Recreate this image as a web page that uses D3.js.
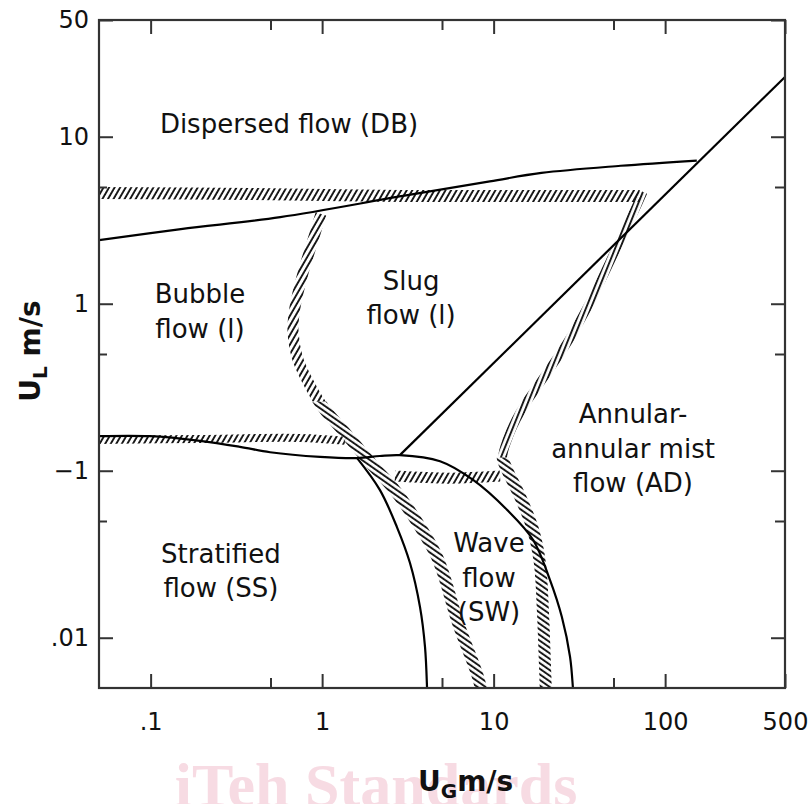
<!DOCTYPE html>
<meta charset="utf-8">
<style>
body { margin: 0; background: #fff; }
svg { font-family: "DejaVu Sans", Verdana, sans-serif; }
.axis path { display: none; }
.axis line { stroke: #333; stroke-width: 2; }
.axis text { font-size: 24px; fill: #111; font-family: "DejaVu Sans", sans-serif; }
.frame { fill: none; stroke: #333; stroke-width: 2.2; }
.curve { fill: none; stroke: #000; stroke-width: 2.2; }
.band { fill: none; }
.region text { font-size: 26px; fill: #111; text-anchor: middle; }
.title { font-weight: bold; font-size: 28px; fill: #111; }
.watermark { font-family: "Liberation Serif", serif; font-weight: bold; font-size: 62px; fill: #f7dbe3; text-anchor: middle; }
</style>
<body>
<svg id="chart" width="810" height="804"></svg>
<script src="https://d3js.org/d3.v7.min.js"></script>
<script>

// axis ticks
var xTicks = [0.1, 1, 10, 100, 500];
var xTickLabels = [".1", "1", "10", "100", "500"];
var xMinor = [0.5, 5, 50];
var yTicks = [50, 10, 1, 0.1, 0.01];
var yTickLabels = ["50", "10", "1", "\u22121", ".01"];
var yMinor = [5, 0.5, 0.05];

// solid boundaries (UG m/s, UL m/s)
var dbX = [0.05, 0.15, 0.57, 2.96, 9.5, 19, 55, 153];
var dbY = [2.4, 2.8, 3.3, 4.42, 5.4, 6.07, 6.7, 7.2];
var diagX = [2.84, 500];
var diagY = [0.124, 22.8];
var stratX = [0.05, 0.099, 0.194, 0.332, 0.497, 0.973, 1.6, 2.17, 2.84, 4.87, 7.59, 12.0, 17.0, 21.3, 25.0, 27.9, 29.0, 29.2];
var stratY = [0.161, 0.161, 0.151, 0.139, 0.129, 0.121, 0.119, 0.1225, 0.124, 0.114, 0.0881, 0.0582, 0.0385, 0.0222, 0.0133, 0.00768, 0.005, 0.0045];
var waveX = [1.6, 2.17, 2.73, 3.25, 3.72, 3.98, 4.09, 4.1];
var waveY = [0.119, 0.0768, 0.046, 0.0281, 0.0153, 0.00881, 0.005, 0.0045];

// hatched transition bands (centre lines)
var bandAX = [0.05, 0.38, 2.84, 21.3, 71];
var bandAY = [4.6, 4.54, 4.42, 4.42, 4.42];
var bandRX = [74.3, 68.6, 52.4, 37.9, 26.8, 18.6, 14.3, 12.0, 11.3, 12.0, 14.3, 17.0, 18.6, 19.4, 19.9, 20.2];
var bandRY = [4.67, 3.9, 2.19, 1.1, 0.582, 0.335, 0.225, 0.153, 0.12, 0.101, 0.0697, 0.0442, 0.0281, 0.0141, 0.00706, 0.0045];
var bandCX = [2.66, 5.57, 10.9];
var bandCY = [0.0929, 0.0903, 0.0929];
var bandEX = [0.984, 0.885, 0.774, 0.695, 0.676, 0.715, 0.817, 1.01, 1.32, 1.66, 2.03, 2.56, 3.13, 4.68, 6.2, 8.11, 8.6];
var bandEY = [3.45, 2.41, 1.53, 0.955, 0.697, 0.48, 0.349, 0.241, 0.175, 0.133, 0.104, 0.08, 0.0607, 0.0304, 0.01225, 0.00582, 0.0045];
var bandFX = [0.05, 0.194, 0.743, 1.36];
var bandFY = [0.153, 0.155, 0.157, 0.151];

// region labels
var regionText = [
  ["Dispersed flow (DB)"],
  ["Bubble", "flow (l)"],
  ["Slug", "flow (l)"],
  ["Annular-", "annular mist", "flow (AD)"],
  ["Stratified", "flow (SS)"],
  ["Wave", "flow", "(SW)"]
];
var regionX = [0.641, 0.194, 3.3, 65.0, 0.257, 9.4];
var regionY = [10.5, 1.01, 1.21, 0.193, 0.0281, 0.0326];

var svg = d3.select("#chart");
var pLeft = 99, pRight = 785, pTop = 20, pBottom = 688;

var x = d3.scaleLog().domain([0.05, 500]).range([pLeft, pRight]);
var y = d3.scaleLog().domain([0.005, 50]).range([pBottom, pTop]);

function zip(xs, ys) { return xs.map(function(v, i) { return [v, ys[i]]; }); }

// watermark behind everything
svg.append("text").attr("class", "watermark")
    .attr("x", 376).attr("y", 806)
    .text("iTeh Standards");

var defs = svg.append("defs");
function clip(id, y0, y1) {
  defs.append("clipPath").attr("id", id)
    .append("rect").attr("x", pLeft).attr("y", y0)
      .attr("width", pRight - pLeft).attr("height", y1 - y0);
}
clip("plot", pTop, pBottom);
// hatch direction changes part way down the left and right bands
clip("upperE", pTop, y(0.26));
clip("lowerE", y(0.26), pBottom);
clip("upperR", pTop, y(0.12));
clip("lowerR", y(0.12), pBottom);

function hatch(id, angle, w) {
  defs.append("pattern").attr("id", id)
      .attr("patternUnits", "userSpaceOnUse")
      .attr("width", w).attr("height", 10)
      .attr("patternTransform", "rotate(" + angle + ")")
    .append("line")
      .attr("x1", 1).attr("y1", -1).attr("x2", 1).attr("y2", 11)
      .attr("stroke", "#111").attr("stroke-width", 1.9);
}
hatch("hatchUp", 30, 4.8);
hatch("hatchSteep", 22, 4.6);
hatch("hatchDown", -55, 4.6);

var line = d3.line()
    .x(function(d) { return x(d[0]); })
    .y(function(d) { return y(d[1]); })
    .curve(d3.curveCatmullRom.alpha(0.5));

var plot = svg.append("g").attr("clip-path", "url(#plot)");

// [x, y, width, pattern, clip]
var bands = [
  [bandAX, bandAY, 12, "hatchUp", "plot"],
  [bandRX, bandRY, 9, "hatchSteep", "upperR"],
  [bandRX, bandRY, 12, "hatchDown", "lowerR"],
  [bandCX, bandCY, 11, "hatchUp", "plot"],
  [bandEX, bandEY, 11, "hatchUp", "upperE"],
  [bandEX, bandEY, 12, "hatchDown", "lowerE"],
  [bandFX, bandFY, 8, "hatchUp", "plot"]
];
plot.selectAll(".band")
    .data(bands)
  .enter().append("path")
    .attr("class", "band")
    .attr("clip-path", function(b) { return "url(#" + b[4] + ")"; })
    .attr("d", function(b) { return line(zip(b[0], b[1])); })
    .attr("stroke", function(b) { return "url(#" + b[3] + ")"; })
    .attr("stroke-width", function(b) { return b[2]; });

var curves = [zip(dbX, dbY), zip(stratX, stratY), zip(waveX, waveY)];
plot.selectAll(".curve")
    .data(curves)
  .enter().append("path")
    .attr("class", "curve")
    .attr("d", line);

plot.append("path")
    .attr("class", "curve")
    .attr("d", d3.line().x(function(d) { return x(d[0]); }).y(function(d) { return y(d[1]); })(zip(diagX, diagY)));

// axes: ticks on all four sides, pointing inward
function fmt(vals, labels) { return function(d) { return labels[vals.indexOf(d)]; }; }

svg.append("g").attr("class", "axis").attr("transform", "translate(0," + pBottom + ")")
    .call(d3.axisBottom(x).tickValues(xTicks).tickFormat(fmt(xTicks, xTickLabels)).tickSize(-14).tickPadding(25));
svg.append("g").attr("class", "axis").attr("transform", "translate(0," + pBottom + ")")
    .call(d3.axisBottom(x).tickValues(xMinor).tickFormat("").tickSize(-10));
svg.append("g").attr("class", "axis").attr("transform", "translate(0," + pTop + ")")
    .call(d3.axisTop(x).tickValues(xTicks).tickFormat("").tickSize(-14));
svg.append("g").attr("class", "axis").attr("transform", "translate(0," + pTop + ")")
    .call(d3.axisTop(x).tickValues(xMinor).tickFormat("").tickSize(-10));

svg.append("g").attr("class", "axis").attr("transform", "translate(" + pLeft + ",0)")
    .call(d3.axisLeft(y).tickValues(yTicks).tickFormat(fmt(yTicks, yTickLabels)).tickSize(-14).tickPadding(10));
svg.append("g").attr("class", "axis").attr("transform", "translate(" + pLeft + ",0)")
    .call(d3.axisLeft(y).tickValues(yMinor).tickFormat("").tickSize(-8));
svg.append("g").attr("class", "axis").attr("transform", "translate(" + pRight + ",0)")
    .call(d3.axisRight(y).tickValues(yTicks).tickFormat("").tickSize(-14));
svg.append("g").attr("class", "axis").attr("transform", "translate(" + pRight + ",0)")
    .call(d3.axisRight(y).tickValues(yMinor).tickFormat("").tickSize(-10));

svg.append("rect").attr("class", "frame")
    .attr("x", pLeft).attr("y", pTop)
    .attr("width", pRight - pLeft).attr("height", pBottom - pTop);

// region labels
var region = svg.append("g").attr("class", "region");
regionText.forEach(function(lines, i) {
  var t = region.append("text")
      .attr("x", x(regionX[i]))
      .attr("y", y(regionY[i]));
  lines.forEach(function(s, j) {
    t.append("tspan")
        .attr("x", x(regionX[i]))
        .attr("dy", j ? 34.5 : 0)
        .text(s);
  });
});

// axis titles
var xt = svg.append("text").attr("class", "title").attr("x", 418).attr("y", 791);
xt.append("tspan").text("U");
xt.append("tspan").attr("dy", 7).attr("font-size", 20).text("G");
xt.append("tspan").attr("dy", -7).text("m/s");

var yt = svg.append("text").attr("class", "title")
    .attr("text-anchor", "middle")
    .attr("transform", "translate(40,351) rotate(-90)");
yt.append("tspan").text("U");
yt.append("tspan").attr("dy", 7).attr("font-size", 20).text("L");
yt.append("tspan").attr("dy", -7).text(" m/s");

</script>
</body>
